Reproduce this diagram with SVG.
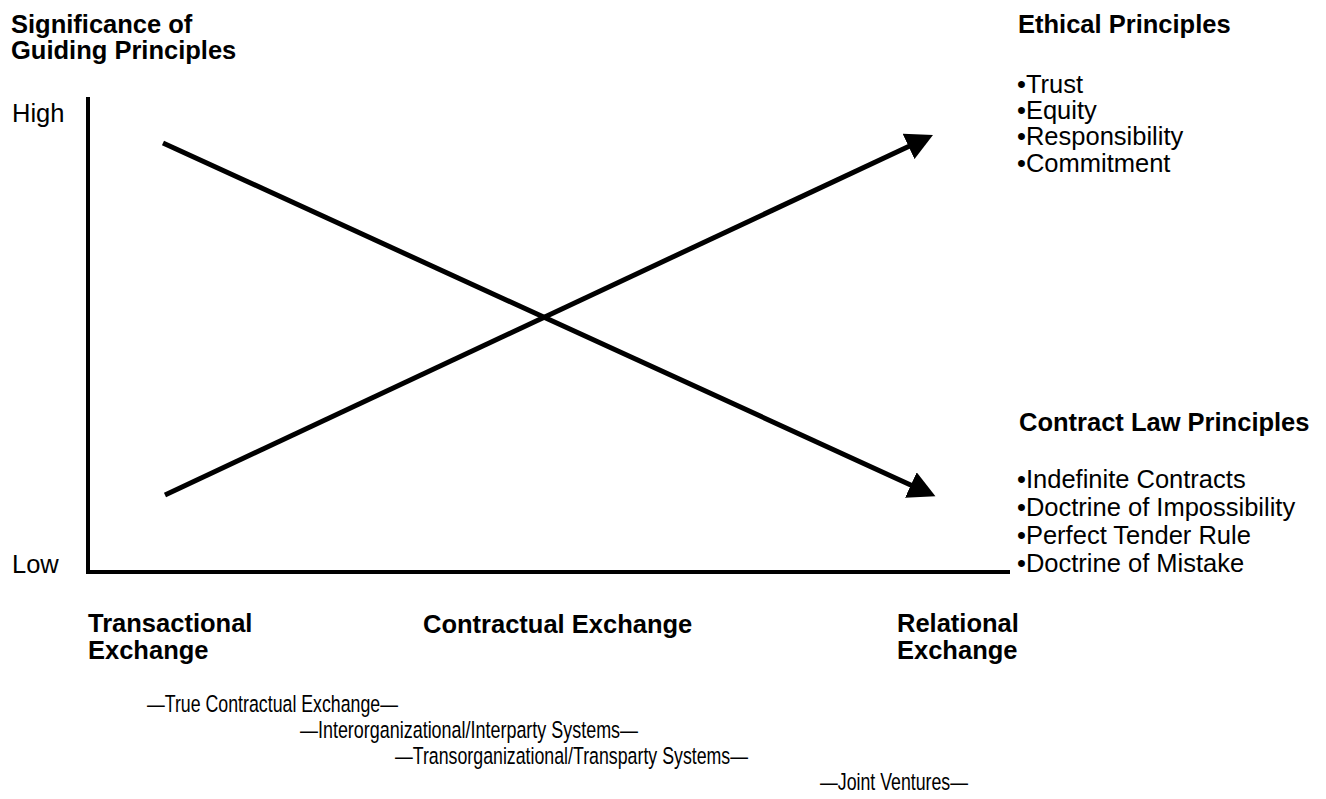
<svg xmlns="http://www.w3.org/2000/svg" width="1326" height="799" viewBox="0 0 1326 799">
<style>
text{font-family:"Liberation Sans",Arial,sans-serif;fill:#000}
.b{font-weight:bold;font-size:25.5px}
.r{font-size:25.5px}
.s{font-size:24.5px}
.ax{stroke:#000;stroke-width:4;fill:none;stroke-linejoin:miter}
.tr{stroke:#000;stroke-width:5;fill:none}
</style>
<defs>
<marker id="ah" markerUnits="userSpaceOnUse" markerWidth="28" markerHeight="28" refX="13" refY="14" orient="auto" viewBox="0 0 28 28">
<path d="M0,0 L27,14 L0,28 Z" fill="#000"/>
</marker>
</defs>
<rect width="1326" height="799" fill="#fff"/>
<g id="y-title">
<text class="b" x="11" y="33">Significance of</text>
<text class="b" x="11" y="59">Guiding Principles</text>
</g>
<g id="axes">
<path class="ax" d="M88,97 L88,572 L1010,572"/>
<text class="r" x="12" y="122">High</text>
<text class="r" x="12" y="573">Low</text>
</g>
<g id="connectors">
<line class="tr" x1="163" y1="143" x2="922.7" y2="490.4" marker-end="url(#ah)"/>
<line class="tr" x1="165" y1="495" x2="920.3" y2="140.9" marker-end="url(#ah)"/>
</g>
<g id="ethical">
<text class="b" x="1018" y="33">Ethical Principles</text>
<text class="r" x="1017" y="93">•Trust</text>
<text class="r" x="1017" y="119">•Equity</text>
<text class="r" x="1017" y="145">•Responsibility</text>
<text class="r" x="1017" y="172">•Commitment</text>
</g>
<g id="contract">
<text class="b" x="1019" y="431">Contract Law Principles</text>
<text class="r" x="1017" y="488">•Indefinite Contracts</text>
<text class="r" x="1017" y="516">•Doctrine of Impossibility</text>
<text class="r" x="1017" y="544">•Perfect Tender Rule</text>
<text class="r" x="1017" y="572">•Doctrine of Mistake</text>
</g>
<g id="transactional">
<text class="b" x="88" y="632">Transactional</text>
<text class="b" x="88" y="659">Exchange</text>
</g>
<g id="contractual">
<text class="b" x="423" y="633">Contractual Exchange</text>
</g>
<g id="relational">
<text class="b" x="897" y="632">Relational</text>
<text class="b" x="897" y="659">Exchange</text>
</g>
<g id="spectrum">
<text class="s" x="147" y="712" textLength="251" lengthAdjust="spacingAndGlyphs">—True Contractual Exchange—</text>
<text class="s" x="300" y="738" textLength="338" lengthAdjust="spacingAndGlyphs">—Interorganizational/Interparty Systems—</text>
<text class="s" x="395" y="764" textLength="353" lengthAdjust="spacingAndGlyphs">—Transorganizational/Transparty Systems—</text>
<text class="s" x="820" y="790" textLength="148" lengthAdjust="spacingAndGlyphs">—Joint Ventures—</text>
</g>
</svg>
